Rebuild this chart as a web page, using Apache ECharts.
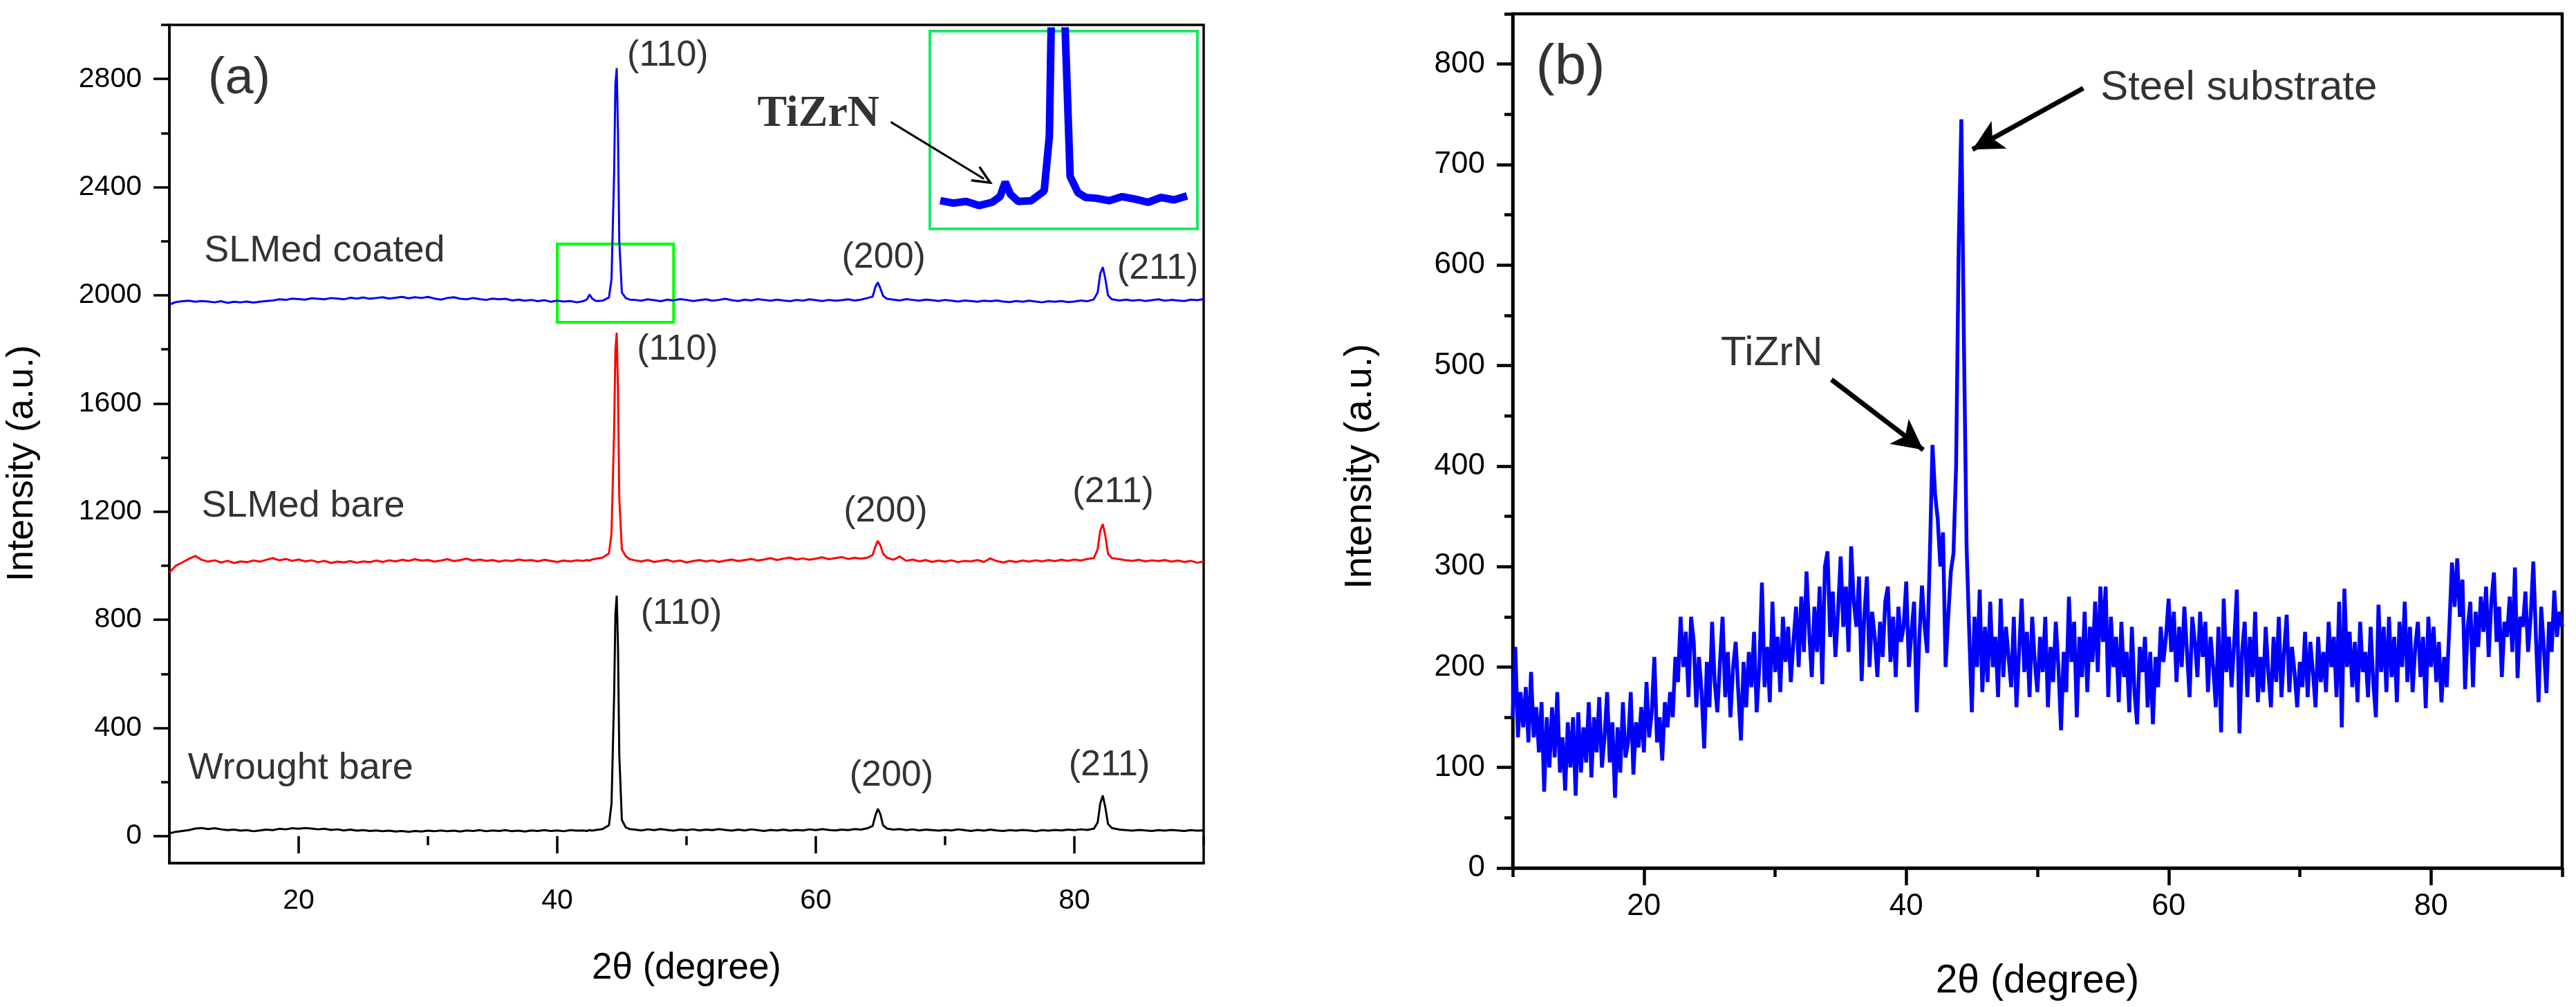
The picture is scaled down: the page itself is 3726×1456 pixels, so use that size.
<!DOCTYPE html>
<html>
<head>
<meta charset="utf-8">
<script src="https://cdn.jsdelivr.net/npm/echarts@6/dist/echarts.min.js"></script>
<style>
  html, body { margin: 0; padding: 0; background: #fff; }
  #chart { width: 3726px; height: 1456px; }
</style>
</head>
<body>
<div id="chart"></div>
<script>
// panel (a): 2theta grid shared by the three patterns
var angleA = [
  10,10.5,11,11.5,12,12.5,13,13.5,14,14.5,15,15.5,16,16.5,17,17.5,18,18.5,19,19.5,
  20,20.5,21,21.5,22,22.5,23,23.5,24,24.5,25,25.5,26,26.5,27,27.5,28,28.5,29,29.5,
  30,30.5,31,31.5,32,32.5,33,33.5,34,34.5,35,35.5,36,36.5,37,37.5,38,38.5,39,39.5,
  40,40.5,41,41.5,42,
  42.3,42.5,42.7,43,43.5,44,44.2,44.4,44.5,44.6,44.7,44.8,45,45.3,45.6,
  46,46.5,47,47.5,48,48.5,49,49.5,50,50.5,51,51.5,52,52.5,53,53.5,54,54.5,55,55.5,
  56,56.5,57,57.5,58,58.5,59,59.5,60,60.5,61,61.5,62,62.5,63,63.5,64,
  64.4,64.6,64.8,65,65.2,65.5,
  66,66.5,67,67.5,68,68.5,69,69.5,70,70.5,71,71.5,72,72.5,73,73.5,74,74.5,75,75.5,
  76,76.5,77,77.5,78,78.5,79,79.5,80,80.5,81,81.5,
  81.8,82,82.2,82.4,82.6,82.9,
  83.5,84,84.5,85,85.5,86,86.5,87,87.5,88,88.5,89,89.5,90
];
var coatedA = [
  1966,1975,1978,1980,1976,1979,1977,1974,1978,1972,1976,1974,1977,1973,1976,1979,1981,1985,1983,1988,
  1986,1984,1989,1987,1985,1990,1988,1985,1991,1988,1992,1987,1990,1993,1988,1991,1994,1989,1993,1990,
  1994,1988,1984,1990,1993,1987,1985,1990,1986,1983,1988,1985,1987,1981,1984,1980,1983,1978,1982,1976,
  1980,1977,1979,1974,1978,
  1985,2003,1988,1979,1980,1992,2060,2450,2780,2840,2600,2200,2010,1990,1984,
  1983,1980,1985,1982,1978,1984,1981,1986,1983,1979,1982,1985,1980,1983,1987,1982,1979,1984,1981,1986,
  1983,1980,1984,1981,1978,1983,1980,1985,1982,1979,1983,1980,1982,1985,1981,1984,1990,
  1995,2030,2048,2025,1998,1987,
  1984,1981,1986,1983,1980,1984,1982,1979,1983,1980,1977,1981,1979,1976,1980,1978,1981,1977,1975,1979,
  1976,1980,1977,1974,1978,1976,1979,1975,1977,1981,1978,1985,
  2010,2080,2104,2060,2000,1985,
  1981,1984,1980,1983,1979,1982,1985,1980,1983,1981,1979,1984,1982,1986
];
var bareA = [
  975,1000,1012,1025,1036,1022,1015,1020,1012,1018,1010,1016,1013,1019,1015,1022,1028,1020,1025,1018,
  1023,1016,1020,1013,1018,1010,1015,1012,1017,1011,1016,1013,1019,1014,1020,1016,1022,1018,1024,1019,
  1021,1015,1019,1024,1017,1021,1026,1019,1023,1018,1021,1015,1020,1017,1023,1019,1021,1016,1022,1018,
  1014,1019,1016,1020,1018,
  1021,1019,1023,1026,1030,1045,1120,1500,1800,1862,1650,1250,1060,1035,1024,
  1020,1016,1021,1014,1018,1022,1015,1019,1012,1017,1021,1016,1020,1014,1019,1023,1017,1021,1025,1019,
  1023,1028,1021,1026,1030,1023,1027,1022,1026,1031,1024,1028,1032,1025,1029,1026,1030,
  1040,1070,1092,1075,1045,1030,
  1022,1034,1018,1023,1016,1021,1014,1019,1015,1020,1013,1018,1016,1021,1014,1027,1017,1012,1018,1014,
  1019,1015,1020,1016,1021,1017,1022,1018,1023,1019,1025,1028,
  1060,1130,1154,1110,1045,1028,
  1024,1020,1018,1022,1016,1020,1017,1021,1015,1019,1014,1018,1011,1016
];
var wroughtA = [
  10,16,19,22,28,30,26,29,25,22,24,20,22,18,21,24,22,27,25,29,
  27,30,28,25,27,23,25,21,24,20,22,19,21,18,20,17,19,16,19,17,
  20,18,21,18,20,17,21,19,22,18,21,19,22,18,20,17,21,19,22,19,
  21,18,22,20,21,
  19,22,20,23,26,40,120,520,820,889,700,300,60,32,26,
  24,21,25,22,26,23,20,24,22,25,21,24,22,26,23,20,24,21,25,22,
  19,23,21,24,20,23,21,25,22,26,23,21,24,22,26,24,29,
  38,75,101,80,40,28,
  24,26,22,25,21,24,22,20,23,21,25,22,19,23,20,24,21,19,22,20,
  23,21,18,22,20,23,21,24,22,25,23,27,
  50,120,150,105,45,30,
  24,22,20,23,21,19,22,20,23,21,19,22,20,21
];

// panel (b): coated steel, 0.2 degree steps
var angleB = [
  10,10.2,10.4,10.6,10.8,11,11.2,11.4,11.6,11.8,
  12,12.2,12.4,12.6,12.8,13,13.2,13.4,13.6,13.8,
  14,14.2,14.4,14.6,14.8,15,15.2,15.4,15.6,15.8,
  16,16.2,16.4,16.6,16.8,17,17.2,17.4,17.6,17.8,
  18,18.2,18.4,18.6,18.8,19,19.2,19.4,19.6,19.8,
  20,20.2,20.4,20.6,20.8,21,21.2,21.4,21.6,21.8,
  22,22.2,22.4,22.6,22.8,23,23.2,23.4,23.6,23.8,
  24,24.2,24.4,24.6,24.8,25,25.2,25.4,25.6,25.8,
  26,26.2,26.4,26.6,26.8,27,27.2,27.4,27.6,27.8,
  28,28.2,28.4,28.6,28.8,29,29.2,29.4,29.6,29.8,
  30,30.2,30.4,30.6,30.8,31,31.2,31.4,31.6,31.8,
  32,32.2,32.4,32.6,32.8,33,33.2,33.4,33.6,33.8,
  34,34.2,34.4,34.6,34.8,35,35.2,35.4,35.6,35.8,
  36,36.2,36.4,36.6,36.8,37,37.2,37.4,37.6,37.8,
  38,38.2,38.4,38.6,38.8,39,39.2,39.4,39.6,39.8,
  40,40.2,40.4,40.6,40.8,41,41.2,41.4,41.6,41.8,
  42,42.2,42.4,42.6,42.8,43,43.2,43.4,43.6,43.8,
  44,44.2,44.4,44.6,44.8,45,45.2,45.4,45.6,45.8,
  46,46.2,46.4,46.6,46.8,47,47.2,47.4,47.6,47.8,
  48,48.2,48.4,48.6,48.8,49,49.2,49.4,49.6,49.8,
  50,50.2,50.4,50.6,50.8,51,51.2,51.4,51.6,51.8,
  52,52.2,52.4,52.6,52.8,53,53.2,53.4,53.6,53.8,
  54,54.2,54.4,54.6,54.8,55,55.2,55.4,55.6,55.8,
  56,56.2,56.4,56.6,56.8,57,57.2,57.4,57.6,57.8,
  58,58.2,58.4,58.6,58.8,59,59.2,59.4,59.6,59.8,
  60,60.2,60.4,60.6,60.8,61,61.2,61.4,61.6,61.8,
  62,62.2,62.4,62.6,62.8,63,63.2,63.4,63.6,63.8,
  64,64.2,64.4,64.6,64.8,65,65.2,65.4,65.6,65.8,
  66,66.2,66.4,66.6,66.8,67,67.2,67.4,67.6,67.8,
  68,68.2,68.4,68.6,68.8,69,69.2,69.4,69.6,69.8,
  70,70.2,70.4,70.6,70.8,71,71.2,71.4,71.6,71.8,
  72,72.2,72.4,72.6,72.8,73,73.2,73.4,73.6,73.8,
  74,74.2,74.4,74.6,74.8,75,75.2,75.4,75.6,75.8,
  76,76.2,76.4,76.6,76.8,77,77.2,77.4,77.6,77.8,
  78,78.2,78.4,78.6,78.8,79,79.2,79.4,79.6,79.8,
  80,80.2,80.4,80.6,80.8,81,81.2,81.4,81.6,81.8,
  82,82.2,82.4,82.6,82.8,83,83.2,83.4,83.6,83.8,
  84,84.2,84.4,84.6,84.8,85,85.2,85.4,85.6,85.8,
  86,86.2,86.4,86.6,86.8,87,87.2,87.4,87.6,87.8,
  88,88.2,88.4,88.6,88.8,89,89.2,89.4,89.6,89.8,
  90
];
var filmB = [
  150,220,130,175,140,180,125,195,130,160,
  115,165,76,150,100,160,110,175,95,130,
  77,145,100,150,72,155,95,140,105,165,
  90,150,115,170,100,130,175,105,145,70,
  140,95,165,110,125,175,93,145,120,160,
  115,185,130,155,210,125,150,107,165,140,
  175,150,210,185,250,200,235,170,250,225,
  160,210,175,119,205,160,245,185,155,205,
  250,170,215,150,200,225,175,127,205,160,
  215,180,235,155,200,284,180,220,165,265,
  195,230,175,250,205,240,185,225,260,200,
  270,215,295,235,190,260,215,280,183,300,
  315,230,275,210,255,310,240,280,215,320,
  265,240,290,186,250,290,200,255,230,190,
  245,210,265,280,205,250,190,260,225,240,
  285,200,235,265,155,230,281,240,214,311,
  421,372,347,300,334,200,250,295,313,400,
  620,745,520,320,235,155,250,200,277,175,
  240,185,265,200,230,170,268,190,240,210,
  180,250,160,215,268,195,235,170,250,205,
  175,230,195,250,160,220,185,245,200,137,
  215,175,270,205,245,150,230,190,255,175,
  240,205,265,195,280,225,280,170,250,200,
  230,165,245,190,215,155,240,175,143,220,
  195,230,160,215,143,210,180,240,205,230,
  268,215,255,185,240,200,260,215,170,250,
  225,190,255,210,245,175,230,200,160,240,
  135,268,195,230,180,225,277,134,215,245,
  170,230,190,255,165,210,175,240,195,160,
  230,185,250,170,215,252,175,220,195,160,
  205,180,235,170,225,195,160,230,185,215,
  175,245,200,230,170,265,140,278,200,235,
  180,225,165,245,195,215,170,240,185,150,
  262,195,240,175,250,190,230,165,245,200,
  265,185,240,175,220,245,190,230,159,250,
  200,240,185,225,165,210,180,240,304,260,
  308,250,287,178,240,265,180,255,220,270,
  235,280,210,265,294,225,260,190,245,230,
  270,215,299,189,250,240,275,215,250,305,
  230,165,260,220,174,245,215,276,230,255,
  240
];

// tick values
var xMajor = [20, 40, 60, 80];
var xMinor = [10, 30, 50, 70, 90];
var yMajorA = [0, 400, 800, 1200, 1600, 2000, 2400, 2800];
var yMinorA = [200, 600, 1000, 1400, 1800, 2200, 2600, 3000];
var yMajorB = [0, 100, 200, 300, 400, 500, 600, 700, 800];
var yMinorB = [50, 150, 250, 350, 450, 550, 650, 750, 850];

// text annotations, placed in data coordinates
var labelsA = [
  { text: '(a)', at: [15.4, 2799], size: 74 },
  { text: 'SLMed coated', at: [22.0, 2163], size: 54 },
  { text: 'SLMed bare', at: [20.35, 1219], size: 54 },
  { text: 'Wrought bare', at: [20.15, 249], size: 54 },
  { text: '(110)', at: [48.55, 2885], size: 52 },
  { text: '(200)', at: [65.25, 2139], size: 52 },
  { text: '(211)', at: [86.45, 2098], size: 52 },
  { text: '(110)', at: [49.3, 1799], size: 52 },
  { text: '(200)', at: [65.4, 1200], size: 52 },
  { text: '(211)', at: [83.0, 1271], size: 52 },
  { text: '(110)', at: [49.6, 822], size: 52 },
  { text: '(200)', at: [65.85, 224], size: 52 },
  { text: '(211)', at: [82.7, 262], size: 52 },
  { text: 'TiZrN', at: [60.2, 2669], size: 64, serif: true }
];
var labelsB = [
  { text: '(b)', at: [14.4, 796], size: 82 },
  { text: 'TiZrN', at: [29.75, 512], size: 60 },
  { text: 'Steel substrate', at: [65.35, 776], size: 60 }
];
var arrowsA = [ [[65.8, 2641], [73.0, 2431]] ];
var arrowsB = [ [[34.3, 486], [41.3, 416]], [[53.5, 776], [45.05, 715]] ];
var zoomBox = [[40, 1900], [49, 2190]];

var FONT = 'Liberation Sans';

function pairs(xs, ys) {
  var out = [];
  for (var i = 0; i < xs.length; i++) out.push([xs[i], ys[i]]);
  return out;
}

function labelData(list) {
  return list.map(function (l) {
    return {
      value: l.at,
      label: {
        show: true, position: 'inside', formatter: l.text, color: '#000',
        fontSize: l.size,
        fontFamily: l.serif ? 'Liberation Serif' : FONT,
        fontWeight: l.serif ? 'bold' : 'normal'
      }
    };
  });
}

function arrowData(list) {
  return list.map(function (a) {
    return [{ coord: a[0] }, { coord: a[1] }];
  });
}

// an axis that only carries one set of ticks (no line, no labels)
function tickAxis(kind, grid, min, max, values, len, lw) {
  return {
    type: 'value', gridIndex: grid, min: min, max: max,
    position: kind === 'x' ? 'bottom' : 'left',
    axisLine: { show: false },
    axisTick: { show: true, customValues: values, length: len, lineStyle: { color: '#000', width: lw } },
    axisLabel: { show: false },
    splitLine: { show: false }
  };
}

function xAxes(grid, lw, lblSize, nameSize, nameGap) {
  return [{
    type: 'value', gridIndex: grid, min: 10, max: 90, position: 'bottom',
    name: '2\u03b8 (degree)', nameLocation: 'middle', nameGap: nameGap,
    nameTextStyle: { fontSize: nameSize, fontFamily: FONT, color: '#000' },
    axisLine: { show: true, onZero: false, lineStyle: { color: '#000', width: lw } },
    axisTick: { show: false },
    axisLabel: { customValues: xMajor, fontSize: lblSize, fontFamily: FONT, color: '#000', margin: 34,
      formatter: function (v) { return String(v); } },
    splitLine: { show: false }
  },
  tickAxis('x', grid, 10, 90, xMajor, 25, lw),
  tickAxis('x', grid, 10, 90, xMinor, 13, lw)];
}

function yAxes(grid, lw, min, max, majors, minors, lblSize, nameSize, nameGap, shift) {
  return [{
    type: 'value', gridIndex: grid, min: min, max: max, position: 'left',
    name: 'Intensity (a.u.)', nameLocation: 'middle', nameGap: nameGap,
    nameTextStyle: { fontSize: nameSize, fontFamily: FONT, color: '#000', padding: [0, shift, 0, 0] },
    axisLine: { show: true, onZero: false, lineStyle: { color: '#000', width: lw } },
    axisTick: { show: false },
    axisLabel: { customValues: majors, fontSize: lblSize, fontFamily: FONT, color: '#000', margin: 40,
      formatter: function (v) { return String(v); } },
    splitLine: { show: false }
  },
  tickAxis('y', grid, min, max, majors, 23, lw),
  tickAxis('y', grid, min, max, minors, 12, lw)];
}

var insetData = pairs(angleA, coatedA).filter(function (p) { return p[0] >= 40 && p[0] <= 49.5; });

var chart = echarts.init(document.getElementById('chart'));
var option = {
  animation: false,
  backgroundColor: '#fff',
  textStyle: { fontFamily: FONT },
  grid: [
    { left: 245, top: 36, width: 1496, height: 1212, show: true, borderColor: '#000', borderWidth: 3.5 },
    { left: 2188, top: 20, width: 1518, height: 1235, show: true, borderColor: '#000', borderWidth: 4.5 },
    { left: 1345, top: 45, width: 387, height: 286, show: true, borderColor: '#1fe66a', borderWidth: 4 }
  ],
  // x: 0-2 panel a, 3-5 panel b, 6 inset
  xAxis: []
    .concat(xAxes(0, 3.5, 41, 53, 126))
    .concat(xAxes(1, 4.5, 44, 57, 136))
    .concat([{ type: 'value', gridIndex: 2, min: 39.6, max: 49.9, show: false }]),
  yAxis: []
    .concat(yAxes(0, 3.5, -100, 3000, yMajorA, yMinorA, 41, 54, 186, 56))
    .concat(yAxes(1, 4.5, 0, 850, yMajorB, yMinorB, 44, 56, 192, 74))
    .concat([{ type: 'value', gridIndex: 2, min: 1945, max: 2190, show: false }]),
  series: [
    {
      name: 'SLMed coated', type: 'line', xAxisIndex: 0, yAxisIndex: 0,
      data: pairs(angleA, coatedA), showSymbol: false, silent: true,
      lineStyle: { color: '#0000ff', width: 3 },
      markArea: {
        silent: true,
        itemStyle: { color: 'rgba(0,0,0,0)', borderColor: '#00ff00', borderWidth: 4 },
        data: [[{ coord: zoomBox[0] }, { coord: zoomBox[1] }]]
      }
    },
    {
      name: 'SLMed bare', type: 'line', xAxisIndex: 0, yAxisIndex: 0,
      data: pairs(angleA, bareA), showSymbol: false, silent: true,
      lineStyle: { color: '#ff0000', width: 3 }
    },
    {
      name: 'Wrought bare', type: 'line', xAxisIndex: 0, yAxisIndex: 0,
      data: pairs(angleA, wroughtA), showSymbol: false, silent: true,
      lineStyle: { color: '#000000', width: 3 }
    },
    {
      name: 'labels a', type: 'scatter', xAxisIndex: 0, yAxisIndex: 0,
      symbolSize: 0, silent: true, data: labelData(labelsA),
      markLine: {
        silent: true, symbol: ['none', 'path://M0,24 L12,0 L24,24 L21,25 L12,7 L3,25 Z'], symbolSize: [26, 30],
        label: { show: false },
        lineStyle: { color: '#000', width: 3, type: 'solid' },
        data: arrowData(arrowsA)
      }
    },
    {
      name: 'inset', type: 'line', xAxisIndex: 6, yAxisIndex: 6,
      data: insetData, showSymbol: false, silent: true,
      lineStyle: { color: '#0000ff', width: 11 }
    },
    {
      name: 'TiZrN coated steel', type: 'line', xAxisIndex: 3, yAxisIndex: 3,
      data: pairs(angleB, filmB), showSymbol: false, silent: true,
      lineStyle: { color: '#0000ff', width: 5.5 }
    },
    {
      name: 'labels b', type: 'scatter', xAxisIndex: 3, yAxisIndex: 3,
      symbolSize: 0, silent: true, data: labelData(labelsB),
      markLine: {
        silent: true, symbol: ['none', 'arrow'], symbolSize: [34, 44],
        label: { show: false },
        lineStyle: { color: '#000', width: 7, type: 'solid' },
        data: arrowData(arrowsB)
      }
    }
  ]
};
chart.setOption(option);
</script>
</body>
</html>
